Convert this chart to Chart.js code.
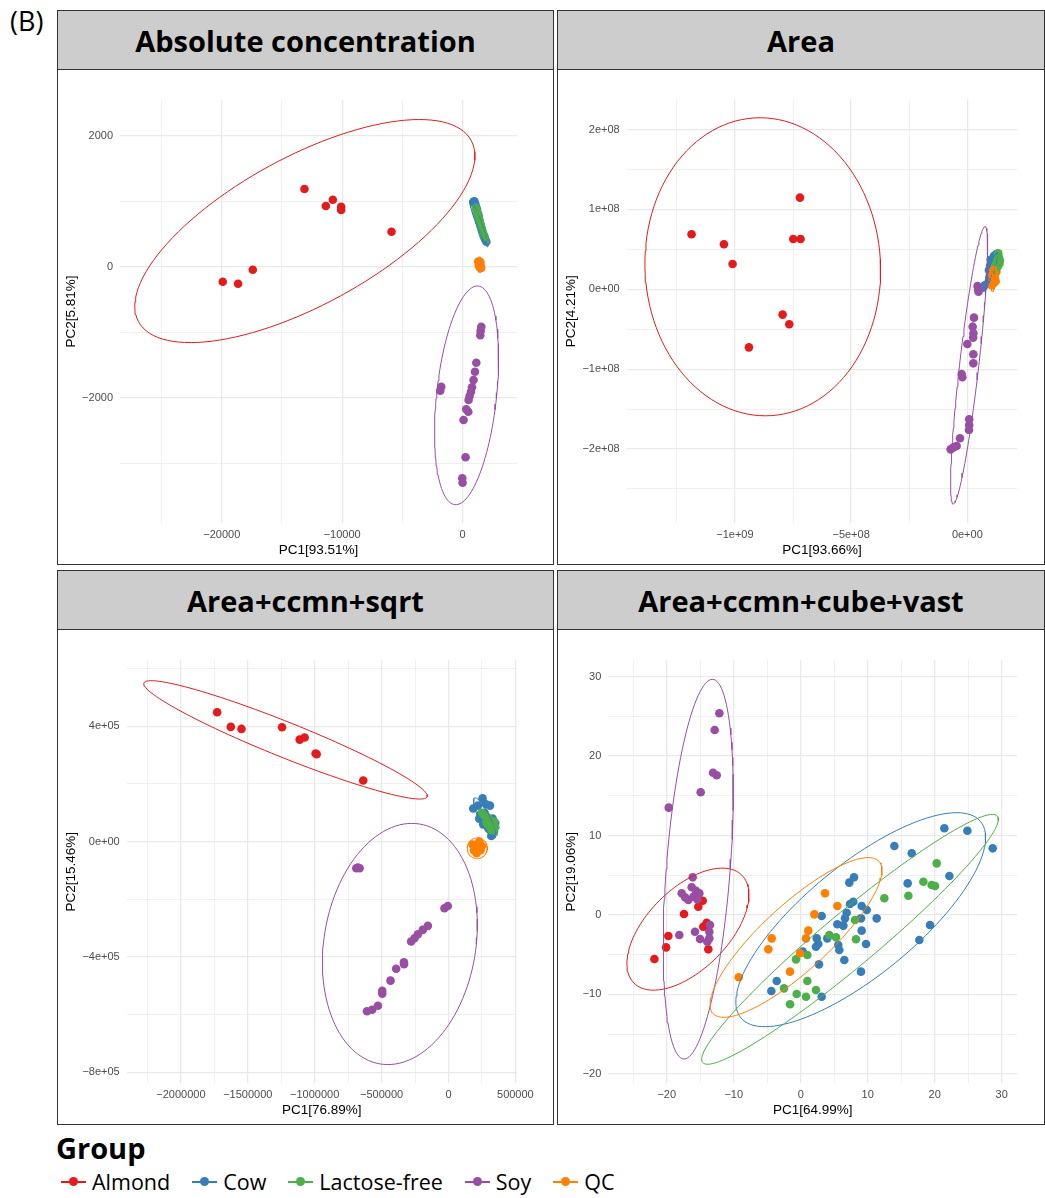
<!DOCTYPE html>
<html>
<head>
<meta charset="utf-8">
<script src="https://cdn.jsdelivr.net/npm/chart.js@4.4.1/dist/chart.umd.min.js"></script>
<style>
  body { margin: 0; background: #fff; width: 1045px; height: 1198px; position: relative; overflow: hidden; font-family: "Open Sans", sans-serif; }
  .strip { position: absolute; box-sizing: border-box; height: 60px; border: 1px solid #333; background: #cdcdcd;
           text-align: center; font-weight: 700; font-size: 29px; line-height: 59px; color: #000; }
  .panel { position: absolute; box-sizing: border-box; border: 1px solid #333; background: #fff; }
  .panel canvas { position: absolute; left: 0; top: 0; }
  #tag { position: absolute; left: 10px; top: 6px; font-size: 27px; line-height: 30px; }
  #legend-title { position: absolute; left: 56px; top: 1130px; font-size: 29px; font-weight: 700; line-height: 36px; }
  #legend { position: absolute; left: 61px; top: 1167px; display: flex; gap: 22px; font-size: 21.5px; line-height: 30px; }
  .item { display: flex; align-items: center; gap: 6px; }
  .sym { position: relative; width: 25px; height: 30px; }
  .sym .ln { position: absolute; left: 0; right: 0; top: 14px; height: 1.5px; }
  .sym .dt { position: absolute; left: 8px; top: 10px; width: 9px; height: 9px; border-radius: 50%; }
</style>
</head>
<body>
<div id="tag">(B)</div>

<div class="strip" style="left:57px;top:10px;width:497px">Absolute concentration</div>
<div class="strip" style="left:557px;top:10px;width:488px">Area</div>
<div class="strip" style="left:57px;top:570px;width:497px">Area+ccmn+sqrt</div>
<div class="strip" style="left:557px;top:570px;width:488px">Area+ccmn+cube+vast</div>

<div class="panel" style="left:57px;top:69px;width:497px;height:496px"><canvas id="abs" width="495" height="494"></canvas></div>
<div class="panel" style="left:557px;top:69px;width:488px;height:496px"><canvas id="area" width="486" height="494"></canvas></div>
<div class="panel" style="left:57px;top:629px;width:497px;height:496px"><canvas id="sqrt" width="495" height="494"></canvas></div>
<div class="panel" style="left:557px;top:629px;width:488px;height:496px"><canvas id="vast" width="486" height="494"></canvas></div>

<div id="legend-title">Group</div>
<div id="legend"></div>

<script>
const groups = ['Almond', 'Cow', 'Lactose-free', 'Soy', 'QC'];
const groupColors = ['#E41A1C', '#377EB8', '#4DAF4A', '#984EA3', '#FF7F00'];

// ---- Absolute concentration ----
const absAlmond = [[-19917,-229],[-18643,-260],[-17424,-46],[-13130,1186],[-11357,926],[-10776,1023],[-10083,916],[-10083,865],[-5900,534]];
const absCow = [[900,990],[980,1000],[1050,960],[1080,930],[1150,900],[1200,870],[1240,820],[1300,800],[1350,760],[1380,720],[1420,690],[1480,650],[1530,610],[1580,580],[1620,540],[1700,500],[1760,470],[1820,440],[1900,410],[1980,380]];
const absLf = [[1100,900],[1160,860],[1220,820],[1280,780],[1330,740],[1400,700],[1450,660],[1500,620],[1560,590],[1620,560],[1680,520],[1750,490],[1820,460]];
const absSoy = [[1554,-916],[1471,-1047],[1500,-980],[1139,-1466],[1030,-1603],[914,-1730],[781,-1841],[698,-1908],[582,-1974],[499,-2035],[308,-2177],[474,-2214],[83,-2340],[-1771,-1832],[-1854,-1893],[249,-2910],[-25,-3231],[0,-3298]];
const absQc = [[1300,80],[1380,60],[1450,40],[1350,20],[1500,10],[1420,-10],[1550,-20],[1480,70]];
// ellipse: centre x, centre y, axis vector a (x, y), axis vector b (x, y)
const absEllipses = [[-13100,544,13812,1384,2945,-992],[1360,660,720,-355,250,0],[1650,650,511,-292,120,0],[332,-1964,970,1669,2476,-48],[1420,30,0,120,220,0]];
const absXMajor = [-20000, -10000, 0];
const absXLabels = ['\u221220000', '\u221210000', '0'];
const absXMinor = [-25000, -15000, -5000];
const absYMajor = [2000, 0, -2000];
const absYLabels = ['2000', '0', '\u22122000'];
const absYMinor = [1000, -1000, -3000];

// ---- Area ----
const areaAlmond = [[-1.1865e9,6.89e7],[-1.0473e9,5.64e7],[-1.01e9,3.17e7],[-7.202e8,1.148e8],[-7.489e8,6.30e7],[-7.174e8,6.30e7],[-7.948e8,-3.17e7],[-7.661e8,-4.38e7],[-9.397e8,-7.27e7]];
const areaCow = [[6.6e7,0.2e7],[7.5e7,0.5e7],[9.0e7,0.8e7],[9.5e7,1.5e7],[9.3e7,2.4e7],[9.8e7,3.0e7],[1.0e8,3.7e7],[1.1e8,3.8e7],[1.2e8,3.6e7],[1.05e8,2.0e7],[1.15e8,4.2e7],[1.25e8,4.4e7]];
const areaLf = [[1.2e8,3.0e7],[1.28e8,3.8e7],[1.33e8,4.5e7],[1.36e8,4.0e7],[1.3e8,2.8e7],[1.38e8,3.2e7],[1.25e8,2.2e7],[1.4e8,3.6e7]];
const areaSoy = [[4.4e7,4e6],[4.7e7,0],[4.8e7,-3e6],[2.87e7,-3.55e7],[2.3e7,-4.68e7],[2.6e7,-5.5e7],[2.5e7,-6.05e7],[0,-6.85e7],[2.58e7,-8.14e7],[2.58e7,-9.27e7],[-2.44e7,-1.061e8],[-2.15e7,-1.102e8],[8e6,-1.628e8],[8e6,-1.699e8],[7e6,-1.762e8],[-3.16e7,-1.866e8],[-4.6e7,-1.962e8],[-6.0e7,-1.979e8],[-7.2e7,-2.004e8]];
const areaQc = [[1.05e8,0.5e7],[1.1e8,1.2e7],[1.15e8,0.8e7],[1.2e8,2.0e7],[1.12e8,2.4e7],[1.18e8,1.5e7],[1.08e8,1.8e7],[1.22e8,1.0e7]];
const areaEllipses = [[-8.802e8,2.82e7,-1.15e7,1.866e8,5.07e8,0],[1.0e8,2.2e7,2.8e7,2.4e7,1.2e7,0],[1.3e8,3.4e7,1.2e7,1.5e7,0.8e7,0],[7.9e6,-9.52e7,6.815e7,1.737e8,4.16e7,0],[1.14e8,1.3e7,0.6e7,1.6e7,0.9e7,0]];
const areaXMajor = [-1e9, -5e8, 0];
const areaXLabels = ['\u22121e+09', '\u22125e+08', '0e+00'];
const areaXMinor = [-1.25e9, -7.5e8, -2.5e8];
const areaYMajor = [2e8, 1e8, 0, -1e8, -2e8];
const areaYLabels = ['2e+08', '1e+08', '0e+00', '\u22121e+08', '\u22122e+08'];
const areaYMinor = [1.5e8, 5e7, -5e7, -1.5e8, -2.5e8];

// ---- Area+ccmn+sqrt ----
const sqrtAlmond = [[-1.729e6,4.49e5],[-1.627e6,3.98e5],[-1.547e6,3.91e5],[-1.244e6,3.97e5],[-1.112e6,3.54e5],[-1.075e6,3.61e5],[-9.93e5,3.06e5],[-9.85e5,3.03e5],[-6.37e5,2.12e5]];
const sqrtCow = [[1.85e5,1.15e5],[2.2e5,1.25e5],[2.55e5,1.5e5],[2.8e5,1.3e5],[3.1e5,1.25e5],[2.4e5,9.5e4],[2.7e5,1.0e5],[3.3e5,8.0e4],[3.5e5,6.5e4],[3.0e5,4.5e4],[3.2e5,2.0e4],[3.4e5,3.5e4],[2.9e5,7.0e4],[2.6e5,6.0e4],[2.3e5,8.0e4]];
const sqrtLf = [[2.5e5,1.0e5],[2.7e5,9.0e4],[2.9e5,8.5e4],[3.1e5,7.5e4],[3.3e5,6.0e4],[3.0e5,5.5e4],[3.5e5,5.0e4],[2.8e5,6.5e4],[3.2e5,4.0e4],[3.4e5,7.0e4]];
const sqrtSoy = [[-6.89e5,-9.2e4],[-6.77e5,-9.0e4],[-6.64e5,-9.2e4],[-5e3,-2.23e5],[-3e4,-2.31e5],[-1.54e5,-2.92e5],[-1.92e5,-3.06e5],[-2.29e5,-3.21e5],[-2.54e5,-3.35e5],[-2.79e5,-3.46e5],[-3.33e5,-4.18e5],[-3.32e5,-4.25e5],[-3.91e5,-4.41e5],[-4.33e5,-4.82e5],[-4.95e5,-5.17e5],[-4.95e5,-5.27e5],[-5.27e5,-5.69e5],[-5.70e5,-5.83e5],[-6.09e5,-5.88e5]];
const sqrtQc = [[1.8e5,-1.0e4],[2.0e5,-2.5e4],[2.2e5,-1.5e4],[2.4e5,-3.0e4],[2.1e5,-4.0e4],[2.3e5,0],[1.9e5,-3.0e4],[2.5e5,-1.5e4]];
const sqrtEllipses = [[-1.2177e6,3.53e5,1.0585e6,-1.973e5,-4.90e4,-5.66e4],[2.7e5,8.2e4,7e4,-7e4,4.5e4,0],[3.0e5,6.5e4,6e4,-4.5e4,2.5e4,0],[-3.632e5,-3.548e5,8.96e4,4.182e5,5.72e5,0],[2.15e5,-2.3e4,0,3.6e4,7.5e4,0]];
const sqrtXMajor = [-2000000, -1500000, -1000000, -500000, 0, 500000];
const sqrtXLabels = ['\u22122000000', '\u22121500000', '\u22121000000', '\u2212500000', '0', '500000'];
const sqrtXMinor = [-2250000, -1750000, -1250000, -750000, -250000, 250000];
const sqrtYMajor = [4e5, 0, -4e5, -8e5];
const sqrtYLabels = ['4e+05', '0e+00', '\u22124e+05', '\u22128e+05'];
const sqrtYMinor = [6e5, 2e5, -2e5, -6e5];

// ---- Area+ccmn+cube+vast ----
const vastAlmond = [[-21.84,-5.54],[-20.10,-4.07],[-19.76,-2.64],[-17.42,0.13],[-15.28,1.04],[-14.63,1.80],[-14.03,-0.97],[-14.54,-1.47],[-14.28,-1.38],[-13.79,-4.32]];
const vastCow = [[-4.38,-9.56],[-3.58,-8.31],[0.30,-4.61],[3.13,-0.13],[2.39,-2.94],[2.63,-3.65],[2.28,-3.99],[2.73,-6.21],[3.13,-10.28],[3.97,-2.94],[5.47,-1.17],[5.61,-3.78],[5.76,-4.40],[6.37,-1.34],[6.61,-0.42],[6.86,0.29],[6.51,-5.66],[7.25,4.07],[7.96,4.74],[7.36,1.38],[7.85,1.67],[9.0,-0.42],[9.1,1.13],[9.1,-1.97],[9.75,-3.65],[9.85,0.63],[9.0,-7.13],[11.34,-0.42],[13.98,8.68],[16.57,7.76],[15.97,3.98],[17.71,-3.15],[19.30,-1.26],[21.44,10.91],[22.19,4.91],[24.88,10.61],[28.66,8.39]];
const vastLf = [[-0.70,-5.58],[0.99,-5.03],[-2.49,-9.23],[-1.59,-11.24],[-0.60,-9.94],[0.79,-10.28],[0.99,-8.31],[2.28,-9.44],[4.27,-2.52],[5.27,-2.81],[8.1,-0.63],[8.25,-3.06],[12.48,2.10],[16.07,2.43],[18.31,4.19],[19.55,3.78],[20.05,3.65],[20.30,6.50]];
const vastSoy = [[-12.14,25.38],[-12.84,23.28],[-13.08,17.91],[-12.54,17.58],[-14.93,15.44],[-19.70,13.51],[-16.12,4.74],[-16.27,3.49],[-15.63,3.06],[-17.76,2.73],[-17.27,2.23],[-15.13,2.73],[-16.03,2.30],[-15.43,1.97],[-16.78,1.89],[-18.12,-2.52],[-15.78,-2.10],[-15.03,-3.02],[-13.64,-2.10],[-13.64,-2.94],[-13.94,-3.36],[-13.54,-1.26]];
const vastQc = [[-9.25,-7.84],[-4.83,-4.32],[-4.33,-2.94],[-1.60,-7.13],[-0.10,-4.82],[0.79,-2.94],[1.13,-1.97],[2.04,0.08],[3.63,2.73],[5.47,1.13]];
const vastEllipses = [[-16.84,-1.78,8.05,6.79,4.26,-3.59],[8.96,-0.59,17.90,12.34,5.22,-5.39],[7.36,-3.06,21.99,15.51,2.57,-2.59],[-15.30,5.77,2.11,23.89,4.78,0],[-0.70,-2.83,12.39,9.57,3.34,-3.07]];
const vastXMajor = [-20, -10, 0, 10, 20, 30];
const vastXLabels = ['\u221220', '\u221210', '0', '10', '20', '30'];
const vastXMinor = [-25, -15, -5, 5, 15, 25];
const vastYMajor = [30, 20, 10, 0, -10, -20];
const vastYLabels = ['30', '20', '10', '0', '\u221210', '\u221220'];
const vastYMinor = [25, 15, 5, -5, -15];

// outline of a stat_ellipse from its centre and two conjugate axis vectors
function ellipsePath(e) {
    const [cx, cy, ax, ay, bx, by] = e;
    const pts = [];
    for (let i = 0; i <= 120; i++) {
        const t = i / 120 * 2 * Math.PI;
        pts.push({ x: cx + ax * Math.cos(t) + bx * Math.sin(t), y: cy + ay * Math.cos(t) + by * Math.sin(t) });
    }
    return pts;
}

function axis(major, labels, minor, range, title, isX, size) {
    const tickFont = { family: 'Liberation Sans', size: 11 };
    return {
        type: 'linear',
        min: range[0],
        max: range[1],
        afterBuildTicks: s => {
            s.ticks = major.concat(minor).sort((a, b) => a - b).map(v => ({ value: v }));
        },
        afterFit: s => {
            if (isX) s.height = size; else s.width = size;
        },
        grid: {
            color: '#e9e9e9',
            lineWidth: c => (c.tick && major.includes(c.tick.value)) ? 1.3 : 0.7,
            drawTicks: false
        },
        border: { display: false },
        ticks: {
            autoSkip: false,
            maxRotation: 0,
            padding: isX ? 5 : 7,
            color: '#4d4d4d',
            font: tickFont,
            callback: v => {
                const k = major.indexOf(v);
                return k < 0 ? '' : labels[k];
            }
        },
        title: {
            display: true,
            text: title,
            color: '#000',
            font: { family: 'Liberation Sans', size: 13.5 },
            padding: isX ? { top: 0, bottom: 6 } : { top: 5.5, bottom: 0 }
        }
    };
}

function makePanel(id, p) {
    const datasets = [];
    p.points.forEach((pts, i) => {
        datasets.push({
            label: groups[i],
            data: pts.map(d => ({ x: d[0], y: d[1] })),
            backgroundColor: groupColors[i],
            borderWidth: 0,
            pointRadius: 4.3,
            pointHoverRadius: 4.3,
            order: 20 - i
        });
    });
    p.ellipses.forEach((e, i) => {
        datasets.push({
            label: groups[i] + ' ellipse',
            data: ellipsePath(e),
            showLine: true,
            borderColor: groupColors[i],
            borderWidth: 1,
            pointRadius: 0,
            fill: false,
            tension: 0,
            order: 5 - i
        });
    });

    new Chart(document.getElementById(id).getContext('2d'), {
        type: 'scatter',
        data: { datasets },
        options: {
            responsive: false,
            animation: false,
            devicePixelRatio: 1,
            layout: { padding: p.padding },
            plugins: { legend: { display: false }, tooltip: { enabled: false } },
            scales: {
                x: axis(p.xMajor, p.xLabels, p.xMinor, p.xRange, p.xTitle, true, p.xHeight),
                y: axis(p.yMajor, p.yLabels, p.yMinor, p.yRange, p.yTitle, false, p.yWidth)
            }
        }
    });
}

makePanel('abs', {
    points: [absAlmond, absCow, absLf, absSoy, absQc],
    ellipses: absEllipses,
    xMajor: absXMajor, xLabels: absXLabels, xMinor: absXMinor, xRange: [-28450, 4520], xTitle: 'PC1[93.51%]',
    yMajor: absYMajor, yLabels: absYLabels, yMinor: absYMinor, yRange: [-3913, 2545], yTitle: 'PC2[5.81%]',
    padding: { left: 0, top: 30, right: 36, bottom: 0 }, xHeight: 41, yWidth: 62
});

makePanel('area', {
    points: [areaAlmond, areaCow, areaLf, areaSoy, areaQc],
    ellipses: areaEllipses,
    xMajor: areaXMajor, xLabels: areaXLabels, xMinor: areaXMinor, xRange: [-1.4656e9, 2.15e8], xTitle: 'PC1[93.66%]',
    yMajor: areaYMajor, yLabels: areaYLabels, yMinor: areaYMinor, yRange: [-2.930e8, 2.379e8], yTitle: 'PC2[4.21%]',
    padding: { left: 0, top: 29.3, right: 26.7, bottom: 0 }, xHeight: 40.7, yWidth: 68.7
});

makePanel('sqrt', {
    points: [sqrtAlmond, sqrtCow, sqrtLf, sqrtSoy, sqrtQc],
    ellipses: sqrtEllipses,
    xMajor: sqrtXMajor, xLabels: sqrtXLabels, xMinor: sqrtXMinor, xRange: [-2.405e6, 5.1e5], xTitle: 'PC1[76.89%]',
    yMajor: sqrtYMajor, yLabels: sqrtYLabels, yMinor: sqrtYMinor, yRange: [-8.38e5, 6.30e5], yTitle: 'PC2[15.46%]',
    padding: { left: 0, top: 30, right: 36.3, bottom: 0 }, xHeight: 40.7, yWidth: 68.7
});

makePanel('vast', {
    points: [vastAlmond, vastCow, vastLf, vastSoy, vastQc],
    ellipses: vastEllipses,
    xMajor: vastXMajor, xLabels: vastXLabels, xMinor: vastXMinor, xRange: [-28.72, 32.33], xTitle: 'PC1[64.99%]',
    yMajor: vastYMajor, yLabels: vastYLabels, yMinor: vastYMinor, yRange: [-21.18, 32.09], yTitle: 'PC2[19.06%]',
    padding: { left: 0, top: 30, right: 26.7, bottom: 0 }, xHeight: 40.7, yWidth: 50.3
});

// legend row under the panels
const legend = document.getElementById('legend');
groups.forEach((g, i) => {
    const item = document.createElement('div');
    item.className = 'item';
    item.innerHTML = `<span class="sym"><span class="ln" style="background:${groupColors[i]}"></span>` +
        `<span class="dt" style="background:${groupColors[i]}"></span></span><span>${g}</span>`;
    legend.appendChild(item);
});
</script>
</body>
</html>
